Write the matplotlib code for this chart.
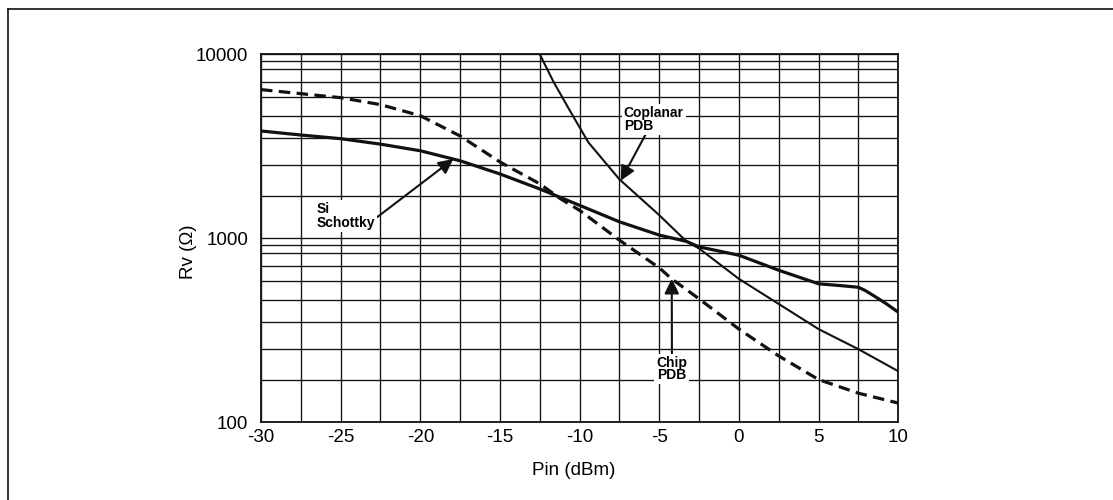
import numpy as np
import matplotlib
matplotlib.use("Agg")
import matplotlib.pyplot as plt
from matplotlib.lines import Line2D
from matplotlib.ticker import FixedLocator, NullFormatter, FixedFormatter

plt.rcParams['font.family'] = ['Liberation Sans', 'DejaVu Sans']

# ---------------- data ----------------
pin_si = [-30, -27.5, -25, -22.5, -20, -17.5, -15, -12.5, -10, -7.5, -5, -3.3, -2.5,
          0, 2.5, 5, 6.4, 7.5, 7.9, 8.45, 9.27, 10]
rv_si = [4300, 4130, 3980, 3750, 3490, 3130, 2660, 2190, 1715, 1310, 1054, 951, 873,
         782, 670, 583, 573, 564, 548, 521, 480, 442]

pin_chip = [-30, -27.5, -25, -22.5, -20, -17.5, -15, -12.5, -11.2, -10, -7.5, -5, -4.22,
            -2.5, 0, 2.5, 5, 7.5, 10]
rv_chip = [6470, 6200, 5950, 5570, 5010, 4090, 3090, 2340, 1910, 1580, 970, 687, 612,
           505, 371, 273, 201, 161, 137]

pin_cop = [-12.5, -11.65, -10.6, -9.45, -7.5, -5, -3.3, -2.5, 0, 2.5, 5, 7.5, 10]
rv_cop = [10000, 7040, 5240, 3820, 2480, 1460, 951, 853, 612, 480, 371, 298, 224]

x_ticks = [-30, -25, -20, -15, -10, -5, 0, 5, 10]
x_tick_labels = ['-30', '-25', '-20', '-15', '-10', '-5', '0', '5', '10']
y_ticks = [100, 1000, 10000]
y_tick_labels = ['100', '1000', '10000']

# ruling of the printed log paper: position of gridlines 1..10 inside a decade
PAPER_MANT = np.arange(1, 11)
PAPER_FRAC = np.array([0, 0.23, 0.40, 0.544, 0.665, 0.769, 0.849, 0.92, 0.965, 1.0])


def fwd(v):
    v = np.asarray(v, dtype=float)
    t = np.log10(np.clip(v, 1e-300, None))
    d = np.floor(t)
    return d + np.interp(t - d, np.log10(PAPER_MANT), PAPER_FRAC)


def inv(y):
    y = np.asarray(y, dtype=float)
    d = np.floor(y)
    return 10 ** (d + np.interp(y - d, PAPER_FRAC, np.log10(PAPER_MANT)))


# ---------------- figure ----------------
fig = plt.figure(figsize=(11.13, 5.0), dpi=100)
ax = fig.add_axes([0.2345, 0.1554, 0.5726, 0.736])
ax.set_yscale('function', functions=(fwd, inv))
ax.set_xlim(-30, 10)
ax.set_ylim(100, 10000)

ax.xaxis.set_major_locator(FixedLocator(x_ticks))
ax.xaxis.set_major_formatter(FixedFormatter(x_tick_labels))
ax.xaxis.set_minor_locator(FixedLocator(np.arange(-27.5, 10, 5.0)))
ax.xaxis.set_minor_formatter(NullFormatter())
ax.yaxis.set_major_locator(FixedLocator(y_ticks))
ax.yaxis.set_major_formatter(FixedFormatter(y_tick_labels))
minor_y = [m * d for d in (100, 1000) for m in range(2, 10)]
ax.yaxis.set_minor_locator(FixedLocator(minor_y))
ax.yaxis.set_minor_formatter(NullFormatter())

ax.grid(True, which='both', color='#111111', lw=0.95)
ax.set_axisbelow(True)
ax.tick_params(which='both', length=0, labelsize=13.5)
ax.tick_params(axis='x', pad=5)
ax.tick_params(axis='y', pad=9)
for s in ax.spines.values():
    s.set_linewidth(1.3)
    s.set_color('#111111')

ax.plot(pin_cop, rv_cop, color='#111111', lw=1.5, solid_capstyle='butt',
        solid_joinstyle='round', zorder=3)
ax.plot(pin_si, rv_si, color='#111111', lw=2.3, solid_capstyle='butt',
        solid_joinstyle='round', zorder=3)
ax.plot(pin_chip, rv_chip, color='#111111', lw=2.3, linestyle=(0, (3.6, 2.0)), zorder=3)

ax.set_xlabel('Pin (dBm)', fontsize=13.5)
ax.set_ylabel('Rv (Ω)', fontsize=13.5)
ax.xaxis.set_label_coords(0.49, -0.108)
ax.yaxis.set_label_coords(-0.1005, 0.463)

bb = dict(fc='white', ec='none', pad=1.5)
arrow = dict(arrowstyle='-|>', color='#111111', lw=1.5, mutation_scale=22,
             shrinkA=0, shrinkB=0)

x_tip = -17.93
ax.annotate('Si\nSchottky', xy=(x_tip, 10 ** np.interp(x_tip, pin_si, np.log10(rv_si))),
            xycoords='data', xytext=(0.0874, 0.561), textcoords='axes fraction',
            ha='left', va='center', fontsize=10, fontweight='bold', linespacing=1.0,
            bbox=bb, arrowprops=dict(arrow, relpos=(1.0, 0.4)), zorder=5)

x_tip = -7.42
ax.annotate('Coplanar\nPDB', xy=(x_tip, 10 ** np.interp(x_tip, pin_cop, np.log10(rv_cop))),
            xycoords='data', xytext=(0.5692, 0.8228), textcoords='axes fraction',
            ha='left', va='center', fontsize=10, fontweight='bold', linespacing=0.85,
            bbox=bb, arrowprops=dict(arrow, relpos=(0.38, 0.0)), zorder=5)

x_tip = -4.22
ax.annotate('Chip\nPDB', xy=(x_tip, 10 ** np.interp(x_tip, pin_chip, np.log10(rv_chip))),
            xycoords='data', xytext=(0.6448, 0.1449), textcoords='axes fraction',
            ha='center', va='center', fontsize=10, fontweight='bold', linespacing=0.85,
            bbox=bb, arrowprops=dict(arrow, relpos=(0.5, 1.0)), zorder=5)

# page frame (top and left edges only)
fig.add_artist(Line2D([8 / 1113, 1.0], [1 - 9 / 500, 1 - 9 / 500],
                      transform=fig.transFigure, color='#111111', lw=1.2))
fig.add_artist(Line2D([8 / 1113, 8 / 1113], [0.0, 1 - 9 / 500],
                      transform=fig.transFigure, color='#111111', lw=1.2))

fig.savefig('out.png', dpi=100, facecolor='white')
